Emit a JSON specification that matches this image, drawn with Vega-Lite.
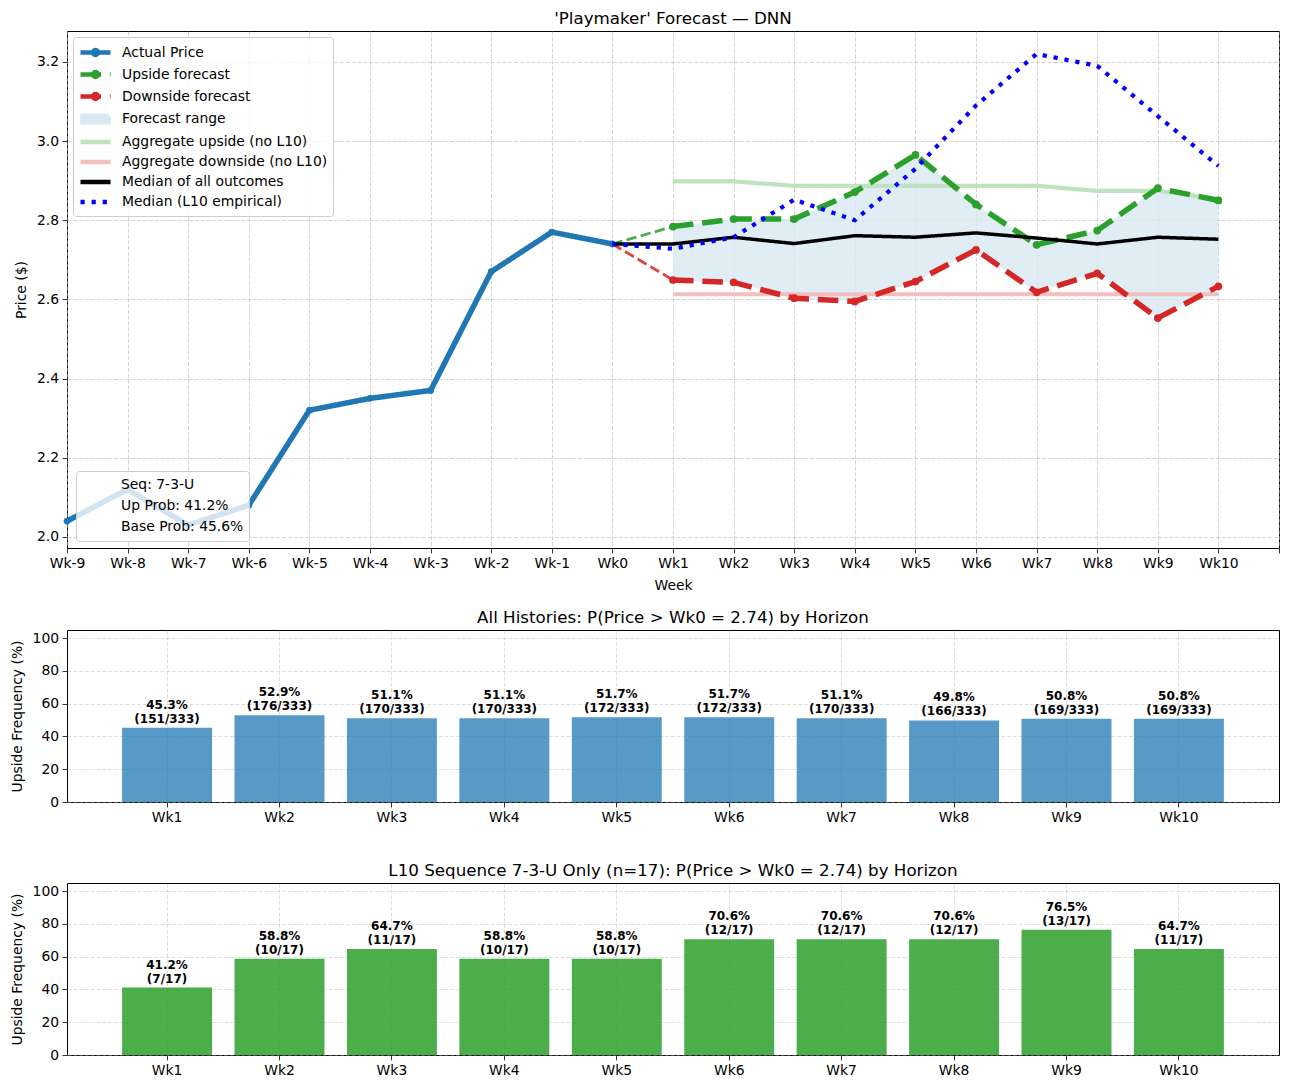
{
  "$schema": "https://vega.github.io/schema/vega-lite/v6.json",
  "padding": {"left": 9, "top": 10, "right": 12, "bottom": 4},
  "config": {
    "font": "DejaVu Sans",
    "view": {"stroke": "black", "strokeWidth": 1},
    "axis": {"labelFont": "DejaVu Sans", "labelFontSize": 13.9, "labelColor": "black", "titleFont": "DejaVu Sans", "titleFontSize": 13.9, "titleFontWeight": "normal", "titleColor": "black", "tickColor": "black", "tickSize": 4.9, "tickWidth": 0.8, "labelPadding": 3.5, "domain": false, "gridDash": [4, 1.8], "gridColor": "#b0b0b0", "gridOpacity": 0.7, "gridWidth": 0.8},
    "title": {"font": "DejaVu Sans", "fontSize": 16.7, "fontWeight": "normal", "color": "black", "offset": 3},
    "legend": {"labelFont": "DejaVu Sans", "labelFontSize": 13.9, "labelColor": "black", "fillColor": "rgba(255,255,255,0.8)", "strokeColor": "#cccccc", "cornerRadius": 3, "padding": 5, "labelLimit": 400}
  },
  "datasets": {
    "legendkeys": [
      {"s": "Actual Price"}, {"s": "Upside forecast"}, {"s": "Downside forecast"}, {"s": "Forecast range"},
      {"s": "Aggregate upside (no L10)"}, {"s": "Aggregate downside (no L10)"}, {"s": "Median of all outcomes"}, {"s": "Median (L10 empirical)"}
    ],
    "lines": [
      {"w": -9, "s": "Actual Price", "v": 2.04},
      {"w": -8, "s": "Actual Price", "v": 2.12},
      {"w": -7, "s": "Actual Price", "v": 2.03},
      {"w": -6, "s": "Actual Price", "v": 2.08},
      {"w": -5, "s": "Actual Price", "v": 2.32},
      {"w": -4, "s": "Actual Price", "v": 2.35},
      {"w": -3, "s": "Actual Price", "v": 2.37},
      {"w": -2, "s": "Actual Price", "v": 2.67},
      {"w": -1, "s": "Actual Price", "v": 2.77},
      {"w": 0, "s": "Actual Price", "v": 2.74},
      {"w": 1, "s": "Upside forecast", "v": 2.784},
      {"w": 2, "s": "Upside forecast", "v": 2.803},
      {"w": 3, "s": "Upside forecast", "v": 2.803},
      {"w": 4, "s": "Upside forecast", "v": 2.871},
      {"w": 5, "s": "Upside forecast", "v": 2.965},
      {"w": 6, "s": "Upside forecast", "v": 2.84},
      {"w": 7, "s": "Upside forecast", "v": 2.738},
      {"w": 8, "s": "Upside forecast", "v": 2.774},
      {"w": 9, "s": "Upside forecast", "v": 2.881},
      {"w": 10, "s": "Upside forecast", "v": 2.85},
      {"w": 1, "s": "Downside forecast", "v": 2.649},
      {"w": 2, "s": "Downside forecast", "v": 2.643},
      {"w": 3, "s": "Downside forecast", "v": 2.603},
      {"w": 4, "s": "Downside forecast", "v": 2.595},
      {"w": 5, "s": "Downside forecast", "v": 2.645},
      {"w": 6, "s": "Downside forecast", "v": 2.725},
      {"w": 7, "s": "Downside forecast", "v": 2.618},
      {"w": 8, "s": "Downside forecast", "v": 2.666},
      {"w": 9, "s": "Downside forecast", "v": 2.553},
      {"w": 10, "s": "Downside forecast", "v": 2.633},
      {"w": 1, "s": "Aggregate upside (no L10)", "v": 2.898},
      {"w": 2, "s": "Aggregate upside (no L10)", "v": 2.898},
      {"w": 3, "s": "Aggregate upside (no L10)", "v": 2.887},
      {"w": 4, "s": "Aggregate upside (no L10)", "v": 2.887},
      {"w": 5, "s": "Aggregate upside (no L10)", "v": 2.887},
      {"w": 6, "s": "Aggregate upside (no L10)", "v": 2.887},
      {"w": 7, "s": "Aggregate upside (no L10)", "v": 2.887},
      {"w": 8, "s": "Aggregate upside (no L10)", "v": 2.874},
      {"w": 9, "s": "Aggregate upside (no L10)", "v": 2.874},
      {"w": 10, "s": "Aggregate upside (no L10)", "v": 2.854},
      {"w": 1, "s": "Aggregate downside (no L10)", "v": 2.613},
      {"w": 2, "s": "Aggregate downside (no L10)", "v": 2.613},
      {"w": 3, "s": "Aggregate downside (no L10)", "v": 2.613},
      {"w": 4, "s": "Aggregate downside (no L10)", "v": 2.613},
      {"w": 5, "s": "Aggregate downside (no L10)", "v": 2.613},
      {"w": 6, "s": "Aggregate downside (no L10)", "v": 2.613},
      {"w": 7, "s": "Aggregate downside (no L10)", "v": 2.613},
      {"w": 8, "s": "Aggregate downside (no L10)", "v": 2.613},
      {"w": 9, "s": "Aggregate downside (no L10)", "v": 2.613},
      {"w": 10, "s": "Aggregate downside (no L10)", "v": 2.613},
      {"w": 0, "s": "Median of all outcomes", "v": 2.74},
      {"w": 1, "s": "Median of all outcomes", "v": 2.74},
      {"w": 2, "s": "Median of all outcomes", "v": 2.757},
      {"w": 3, "s": "Median of all outcomes", "v": 2.741},
      {"w": 4, "s": "Median of all outcomes", "v": 2.761},
      {"w": 5, "s": "Median of all outcomes", "v": 2.757},
      {"w": 6, "s": "Median of all outcomes", "v": 2.768},
      {"w": 7, "s": "Median of all outcomes", "v": 2.755},
      {"w": 8, "s": "Median of all outcomes", "v": 2.74},
      {"w": 9, "s": "Median of all outcomes", "v": 2.757},
      {"w": 10, "s": "Median of all outcomes", "v": 2.752},
      {"w": 0, "s": "Median (L10 empirical)", "v": 2.74},
      {"w": 1, "s": "Median (L10 empirical)", "v": 2.728},
      {"w": 2, "s": "Median (L10 empirical)", "v": 2.757},
      {"w": 3, "s": "Median (L10 empirical)", "v": 2.852},
      {"w": 4, "s": "Median (L10 empirical)", "v": 2.8},
      {"w": 5, "s": "Median (L10 empirical)", "v": 2.93},
      {"w": 6, "s": "Median (L10 empirical)", "v": 3.09},
      {"w": 7, "s": "Median (L10 empirical)", "v": 3.22},
      {"w": 8, "s": "Median (L10 empirical)", "v": 3.19},
      {"w": 9, "s": "Median (L10 empirical)", "v": 3.063},
      {"w": 10, "s": "Median (L10 empirical)", "v": 2.937}
    ],
    "range": [
      {"w": 1, "s": "Forecast range", "lo": 2.649, "hi": 2.784},
      {"w": 2, "s": "Forecast range", "lo": 2.643, "hi": 2.803},
      {"w": 3, "s": "Forecast range", "lo": 2.603, "hi": 2.803},
      {"w": 4, "s": "Forecast range", "lo": 2.595, "hi": 2.871},
      {"w": 5, "s": "Forecast range", "lo": 2.645, "hi": 2.965},
      {"w": 6, "s": "Forecast range", "lo": 2.725, "hi": 2.84},
      {"w": 7, "s": "Forecast range", "lo": 2.618, "hi": 2.738},
      {"w": 8, "s": "Forecast range", "lo": 2.666, "hi": 2.774},
      {"w": 9, "s": "Forecast range", "lo": 2.553, "hi": 2.881},
      {"w": 10, "s": "Forecast range", "lo": 2.633, "hi": 2.85}
    ],
    "connectors": [
      {"w": 0, "c": "up", "v": 2.74},
      {"w": 1, "c": "up", "v": 2.784},
      {"w": 0, "c": "down", "v": 2.74},
      {"w": 1, "c": "down", "v": 2.649}
    ],
    "info": [
      {"info": "Seq: 7-3-U"},
      {"info": "Up Prob: 41.2%"},
      {"info": "Base Prob: 45.6%"}
    ],
    "all": [
      {"wk": "Wk1", "pct": 45.3, "label": "45.3%\n(151/333)"},
      {"wk": "Wk2", "pct": 52.9, "label": "52.9%\n(176/333)"},
      {"wk": "Wk3", "pct": 51.1, "label": "51.1%\n(170/333)"},
      {"wk": "Wk4", "pct": 51.1, "label": "51.1%\n(170/333)"},
      {"wk": "Wk5", "pct": 51.7, "label": "51.7%\n(172/333)"},
      {"wk": "Wk6", "pct": 51.7, "label": "51.7%\n(172/333)"},
      {"wk": "Wk7", "pct": 51.1, "label": "51.1%\n(170/333)"},
      {"wk": "Wk8", "pct": 49.8, "label": "49.8%\n(166/333)"},
      {"wk": "Wk9", "pct": 50.8, "label": "50.8%\n(169/333)"},
      {"wk": "Wk10", "pct": 50.8, "label": "50.8%\n(169/333)"}
    ],
    "seq": [
      {"wk": "Wk1", "pct": 41.2, "label": "41.2%\n(7/17)"},
      {"wk": "Wk2", "pct": 58.8, "label": "58.8%\n(10/17)"},
      {"wk": "Wk3", "pct": 64.7, "label": "64.7%\n(11/17)"},
      {"wk": "Wk4", "pct": 58.8, "label": "58.8%\n(10/17)"},
      {"wk": "Wk5", "pct": 58.8, "label": "58.8%\n(10/17)"},
      {"wk": "Wk6", "pct": 70.6, "label": "70.6%\n(12/17)"},
      {"wk": "Wk7", "pct": 70.6, "label": "70.6%\n(12/17)"},
      {"wk": "Wk8", "pct": 70.6, "label": "70.6%\n(12/17)"},
      {"wk": "Wk9", "pct": 76.5, "label": "76.5%\n(13/17)"},
      {"wk": "Wk10", "pct": 64.7, "label": "64.7%\n(11/17)"}
    ]
  },
  "spacing": 16,
  "vconcat": [
    {
      "width": 1212,
      "height": 517,
      "title": "'Playmaker' Forecast — DNN",
      "encoding": {
        "x": {"field": "w", "type": "quantitative", "scale": {"domain": [-9, 11], "nice": false, "zero": false},
          "axis": {"title": "Week", "values": [-9,-8,-7,-6,-5,-4,-3,-2,-1,0,1,2,3,4,5,6,7,8,9,10,11], "labelExpr": "datum.value <= 10 ? 'Wk' + datum.value : ''", "labelFlush": false, "labelOverlap": false, "grid": true, "titlePadding": 8}},
        "y": {"type": "quantitative", "scale": {"domain": [1.972, 3.278], "nice": false, "zero": false},
          "axis": {"title": "Price ($)", "values": [2.0, 2.2, 2.4, 2.6, 2.8, 3.0, 3.2], "format": ".1f", "minExtent": 31, "maxExtent": 31, "titlePadding": 8, "grid": true}}
      },
      "layer": [
        {
          "data": {"name": "range"},
          "mark": {"type": "area", "opacity": 0.8},
          "encoding": {
            "y": {"field": "lo", "type": "quantitative"},
            "y2": {"field": "hi"},
            "color": {"field": "s", "type": "nominal",
              "scale": {"domain": ["Actual Price", "Upside forecast", "Downside forecast", "Forecast range", "Aggregate upside (no L10)", "Aggregate downside (no L10)", "Median of all outcomes", "Median (L10 empirical)"],
                "range": ["#1f77b4", "#2ca02c", "#d62728", "#dae8f3", "#c0e2c0", "#f3bebe", "#000000", "#0000ff"]},
              "legend": {"title": null, "orient": "top-left", "offset": 5.5, "symbolSize": 256, "symbolStrokeWidth": 4.5, "symbolOpacity": 1, "labelOffset": 23, "rowPadding": -1.5}
            }
          }
        },
        {
          "data": {"name": "legendkeys"},
          "mark": {"type": "point", "filled": false, "opacity": 0},
          "encoding": {
            "color": {"field": "s", "type": "nominal"},
            "shape": {"field": "s", "type": "nominal",
              "scale": {"domain": ["Actual Price", "Upside forecast", "Downside forecast", "Forecast range", "Aggregate upside (no L10)", "Aggregate downside (no L10)", "Median of all outcomes", "Median (L10 empirical)"],
                "range": ["M-1,0H2.75M1.175,0A0.3,0.3,0,1,1,0.575,0A0.3,0.3,0,1,1,1.175,0Z", "M-1,0H2.75M1.175,0A0.3,0.3,0,1,1,0.575,0A0.3,0.3,0,1,1,1.175,0Z", "M-1,0H2.75M1.175,0A0.3,0.3,0,1,1,0.575,0A0.3,0.3,0,1,1,1.175,0Z", "M-0.75,-0.4H2.5V0.4H-0.75Z", "M-1,0H2.75", "M-1,0H2.75", "M-1,0H2.75", "M-1,0H2.75"]}}
          }
        },
        {
          "data": {"name": "lines"},
          "transform": [{"filter": "indexof(['Aggregate upside (no L10)','Aggregate downside (no L10)'], datum.s) >= 0"}],
          "mark": {"type": "line", "strokeWidth": 4.2},
          "encoding": {"y": {"field": "v", "type": "quantitative"}, "color": {"field": "s", "type": "nominal"},
            "strokeDash": {"field": "s", "type": "nominal",
              "scale": {"domain": ["Actual Price", "Upside forecast", "Downside forecast", "Forecast range", "Aggregate upside (no L10)", "Aggregate downside (no L10)", "Median of all outcomes", "Median (L10 empirical)"],
                "range": [[1, 0], [20.5, 8.9], [20.5, 8.9], [1, 0], [1, 0], [1, 0], [1, 0], [4.2, 6.9]]}}}
        },
        {
          "data": {"name": "connectors"},
          "mark": {"type": "line", "strokeWidth": 2.8, "strokeDash": [10.3, 4.4], "opacity": 0.85},
          "encoding": {"y": {"field": "v", "type": "quantitative"}, "stroke": {"field": "c", "type": "nominal", "scale": {"domain": ["up", "down"], "range": ["#2ca02c", "#d62728"]}, "legend": null}}
        },
        {
          "data": {"name": "lines"},
          "transform": [{"filter": "datum.s === 'Actual Price'"}],
          "mark": {"type": "line", "strokeWidth": 5.5},
          "encoding": {"y": {"field": "v", "type": "quantitative"}, "color": {"field": "s", "type": "nominal"}, "strokeDash": {"field": "s", "type": "nominal"}}
        },
        {
          "data": {"name": "lines"},
          "transform": [{"filter": "datum.s === 'Actual Price'"}],
          "mark": {"type": "point", "filled": true, "opacity": 1, "size": 45},
          "encoding": {"y": {"field": "v", "type": "quantitative"}, "color": {"field": "s", "type": "nominal"}}
        },
        {
          "data": {"name": "lines"},
          "transform": [{"filter": "datum.s === 'Upside forecast' || datum.s === 'Downside forecast'"}],
          "mark": {"type": "line", "strokeWidth": 5.5},
          "encoding": {"y": {"field": "v", "type": "quantitative"}, "color": {"field": "s", "type": "nominal"}, "strokeDash": {"field": "s", "type": "nominal"}}
        },
        {
          "data": {"name": "lines"},
          "transform": [{"filter": "datum.s === 'Upside forecast' || datum.s === 'Downside forecast'"}],
          "mark": {"type": "point", "filled": true, "opacity": 1, "size": 60},
          "encoding": {"y": {"field": "v", "type": "quantitative"}, "color": {"field": "s", "type": "nominal"}}
        },
        {
          "data": {"name": "lines"},
          "transform": [{"filter": "datum.s === 'Median of all outcomes'"}],
          "mark": {"type": "line", "strokeWidth": 3.5},
          "encoding": {"y": {"field": "v", "type": "quantitative"}, "color": {"field": "s", "type": "nominal"}, "strokeDash": {"field": "s", "type": "nominal"}}
        },
        {
          "data": {"name": "lines"},
          "transform": [{"filter": "datum.s === 'Median (L10 empirical)'"}],
          "mark": {"type": "line", "strokeWidth": 4.2},
          "encoding": {"y": {"field": "v", "type": "quantitative"}, "color": {"field": "s", "type": "nominal"}, "strokeDash": {"field": "s", "type": "nominal"}}
        },
        {
          "data": {"name": "info"},
          "mark": {"type": "point", "opacity": 0, "filled": true},
          "encoding": {
            "fill": {"field": "info", "type": "nominal", "scale": {"domain": ["Seq: 7-3-U", "Up Prob: 41.2%", "Base Prob: 45.6%"], "range": ["#ffffff", "#ffffff", "#ffffff"]},
              "legend": {"title": null, "orient": "none", "legendX": 9, "legendY": 440, "symbolOpacity": 0, "symbolSize": 250, "labelOffset": 22, "rowPadding": 4.2, "padding": 5}}
          }
        }
      ]
    },
    {
      "spacing": 37,
      "vconcat": [
        {
          "width": 1212,
          "height": 172,
          "title": "All Histories: P(Price > Wk0 = 2.74) by Horizon",
          "data": {"name": "all"},
          "encoding": {
            "x": {"field": "wk", "type": "ordinal", "sort": null, "scale": {"paddingInner": 0.2, "paddingOuter": 0.49},
              "axis": {"title": null, "labelAngle": 0, "grid": true, "bandPosition": 0.5, "gridOpacity": 0.5}},
            "y": {"field": "pct", "type": "quantitative", "scale": {"domain": [0, 105], "nice": false},
              "axis": {"title": "Upside Frequency (%)", "values": [0, 20, 40, 60, 80, 100], "minExtent": 37, "maxExtent": 37, "titlePadding": 6, "grid": true, "gridOpacity": 0.5}}
          },
          "layer": [
            {"mark": {"type": "bar", "color": "#1f77b4", "opacity": 0.75}},
            {"mark": {"type": "text", "fontWeight": "bold", "fontSize": 12, "baseline": "bottom", "dy": -16, "lineHeight": 14, "lineBreak": "\n", "color": "black"},
              "encoding": {"text": {"field": "label", "type": "nominal"}}}
          ]
        },
        {
          "width": 1212,
          "height": 172,
          "title": "L10 Sequence 7-3-U Only (n=17): P(Price > Wk0 = 2.74) by Horizon",
          "data": {"name": "seq"},
          "encoding": {
            "x": {"field": "wk", "type": "ordinal", "sort": null, "scale": {"paddingInner": 0.2, "paddingOuter": 0.49},
              "axis": {"title": null, "labelAngle": 0, "grid": true, "bandPosition": 0.5, "gridOpacity": 0.5}},
            "y": {"field": "pct", "type": "quantitative", "scale": {"domain": [0, 105], "nice": false},
              "axis": {"title": "Upside Frequency (%)", "values": [0, 20, 40, 60, 80, 100], "minExtent": 37, "maxExtent": 37, "titlePadding": 6, "grid": true, "gridOpacity": 0.5}}
          },
          "layer": [
            {"mark": {"type": "bar", "color": "#2ca02c", "opacity": 0.85}},
            {"mark": {"type": "text", "fontWeight": "bold", "fontSize": 12, "baseline": "bottom", "dy": -16, "lineHeight": 14, "lineBreak": "\n", "color": "black"},
              "encoding": {"text": {"field": "label", "type": "nominal"}}}
          ]
        }
      ]
    }
  ]
}
